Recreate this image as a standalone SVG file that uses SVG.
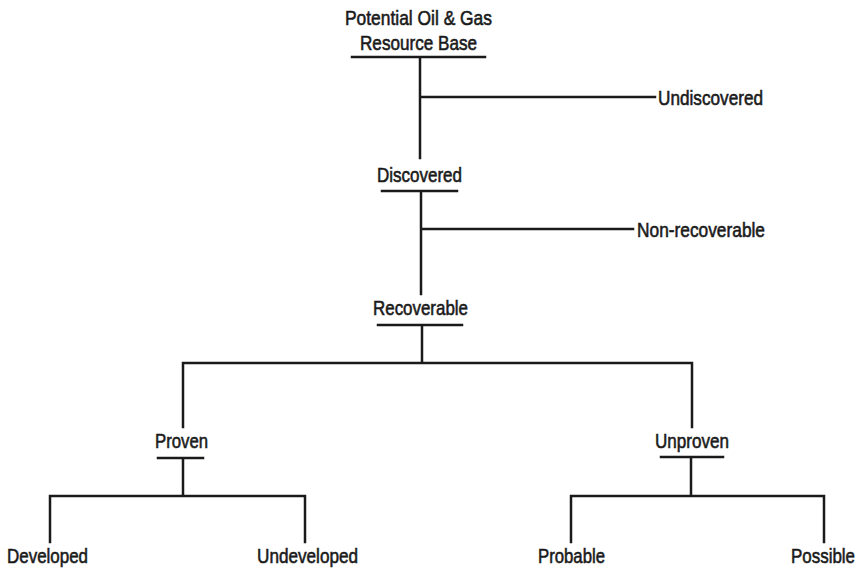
<svg xmlns="http://www.w3.org/2000/svg" width="862" height="571" viewBox="0 0 862 571">
<style>
text{font-family:"Liberation Sans",Arial,sans-serif;font-size:21px;fill:#1a1a1a;stroke:#1a1a1a;stroke-width:0.6}
.ln{stroke:#1a1a1a;stroke-width:2.5;fill:none;stroke-linecap:square}
</style>
<rect width="862" height="571" fill="#fff"/>
<g id="connectors" class="ln">
<path d="M352 57H485M420 57V158M420 97H655"/>
<path d="M382 191H457M421 191V294M421 229H633"/>
<path d="M378 325H462M422 325V363M183 363H692M183 363V427M692 363V427"/>
<path d="M158 458H203M183 458V496M50 496H305M50 496V542M305 496V542"/>
<path d="M661 457H723M691 457V496M571 496H824M571 496V542M824 496V542"/>
</g>
<g id="node-resource-base">
<text x="345" y="25" textLength="147" lengthAdjust="spacingAndGlyphs">Potential Oil &amp; Gas</text>
<text x="360" y="50" textLength="117" lengthAdjust="spacingAndGlyphs">Resource Base</text>
</g>
<g id="node-undiscovered"><text x="658" y="105" textLength="105" lengthAdjust="spacingAndGlyphs">Undiscovered</text></g>
<g id="node-discovered"><text x="377" y="182" textLength="85" lengthAdjust="spacingAndGlyphs">Discovered</text></g>
<g id="node-nonrecoverable"><text x="637" y="237" textLength="128" lengthAdjust="spacingAndGlyphs">Non-recoverable</text></g>
<g id="node-recoverable"><text x="373" y="315" textLength="95" lengthAdjust="spacingAndGlyphs">Recoverable</text></g>
<g id="node-proven"><text x="155" y="448" textLength="53" lengthAdjust="spacingAndGlyphs">Proven</text></g>
<g id="node-unproven"><text x="655" y="448" textLength="74" lengthAdjust="spacingAndGlyphs">Unproven</text></g>
<g id="node-developed"><text x="7" y="563" textLength="81" lengthAdjust="spacingAndGlyphs">Developed</text></g>
<g id="node-undeveloped"><text x="257" y="563" textLength="101" lengthAdjust="spacingAndGlyphs">Undeveloped</text></g>
<g id="node-probable"><text x="538" y="563" textLength="67" lengthAdjust="spacingAndGlyphs">Probable</text></g>
<g id="node-possible"><text x="855" y="563" text-anchor="end" textLength="64" lengthAdjust="spacingAndGlyphs">Possible</text></g>
</svg>
